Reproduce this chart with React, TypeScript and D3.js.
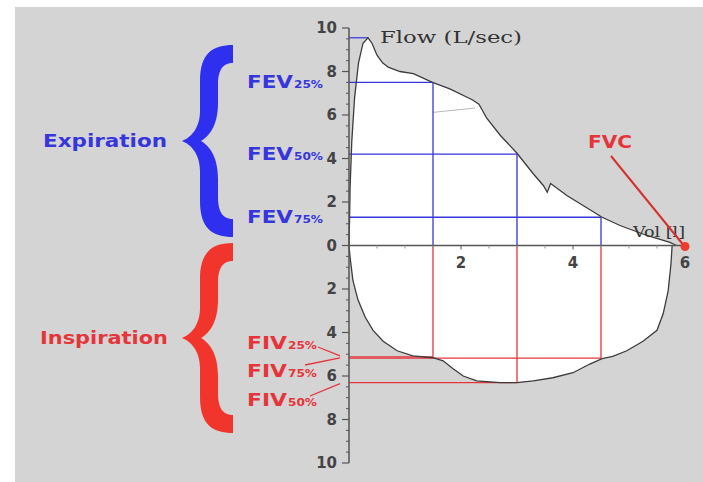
import * as d3 from 'd3';

// flow-volume loop (vol in l, flow in l/s)
const expVol = [0, 0.01, 0.02, 0.05, 0.1, 0.17, 0.25, 0.34, 0.41, 0.5, 0.6, 0.7, 0.91, 1.15, 1.49, 1.8, 2.2, 2.32, 2.46, 2.7, 3.0, 3.29, 3.47, 3.54, 3.6, 3.89, 4.18, 4.52, 4.84, 5.32, 5.73, 5.85];
const expFlow = [0, 1.2, 2.7, 4.8, 6.8, 8.4, 9.3, 9.55, 9.3, 8.75, 8.4, 8.2, 8.0, 7.9, 7.5, 7.2, 6.7, 6.5, 5.85, 5.07, 4.24, 3.3, 2.76, 2.45, 2.85, 2.3, 1.84, 1.3, 0.92, 0.46, 0.14, 0];
const inspVol = [0, 0.02, 0.07, 0.16, 0.29, 0.43, 0.61, 0.86, 1.14, 1.5, 1.68, 1.86, 2.04, 2.28, 2.7, 3.0, 3.29, 3.64, 4.0, 4.3, 4.52, 4.71, 4.96, 5.25, 5.5, 5.61, 5.7, 5.75, 5.77];
const inspFlow = [0, -0.55, -1.6, -2.5, -3.3, -3.9, -4.4, -4.84, -5.07, -5.16, -5.3, -5.67, -6.0, -6.22, -6.3, -6.3, -6.22, -6.08, -5.85, -5.45, -5.2, -5.1, -4.84, -4.4, -3.9, -3.14, -2.07, -0.83, 0];

const pctLabels = ['25%', '50%', '75%'];
const fevVol = [1.5, 3.0, 4.5];
const fevFlow = [7.5, 4.2, 1.3];
const fivVol = [1.5, 3.0, 4.5];
const fivFlow = [-5.12, -6.3, -5.18];
const pefVol = 0.34;
const pefFlow = 9.55;
const fvc = 6;

const yTicks = [10, 8, 6, 4, 2, 0, -2, -4, -6, -8, -10];
const xTicks = [2, 4, 6];

const W = 703;
const H = 482;
const BLUE = '#3636dc';
const RED = '#e6353a';
const AXIS = '#555';

function bracePath(x0: number, x1: number, yTop: number, yBot: number) {
  const ym = (yTop + yBot) / 2;
  const bl = x0 + 18;
  const br = x0 + 36;
  const t = 18;
  return [
    `M${x1},${yTop}`,
    `C${x1 - 20},${yTop} ${bl},${yTop + 8} ${bl},${yTop + 36}`,
    `L${bl},${ym - 30}`,
    `C${bl},${ym - 12} ${x0 + 8},${ym - 3} ${x0},${ym}`,
    `C${x0 + 8},${ym + 3} ${bl},${ym + 12} ${bl},${ym + 30}`,
    `L${bl},${yBot - 36}`,
    `C${bl},${yBot - 8} ${x1 - 20},${yBot} ${x1},${yBot}`,
    `L${x1},${yBot - t}`,
    `C${x1 - 8},${yBot - t} ${br},${yBot - t - 4} ${br},${yBot - t - 22}`,
    `L${br},${ym + 38}`,
    `C${br},${ym + 14} ${x0 + 26},${ym + 4} ${x0 + 19},${ym}`,
    `C${x0 + 26},${ym - 4} ${br},${ym - 14} ${br},${ym - 38}`,
    `L${br},${yTop + t + 22}`,
    `C${br},${yTop + t + 4} ${x1 - 8},${yTop + t} ${x1},${yTop + t}`,
    'Z',
  ].join(' ');
}

export default function App() {
  const x = d3.scaleLinear().domain([0, 6]).range([349, 685]);
  const y = d3.scaleLinear().domain([-10, 10]).range([463, 28]);

  const exp = expVol.map((v, i) => [v, expFlow[i]] as [number, number]);
  const insp = inspVol.map((v, i) => [v, inspFlow[i]] as [number, number]);

  const line = d3.line<[number, number]>().x(d => x(d[0])).y(d => y(d[1]));
  const loop = [...exp, ...insp.slice().reverse()];

  const minor = d3.range(-10, 10.01, 0.5).filter(v => Math.abs(v % 2) > 0.01);
  const xMinor = d3.range(0.5, 6, 0.5).filter(v => Math.abs(v % 2) > 0.01);

  const sans = 'DejaVu Sans, Verdana, sans-serif';
  const serif = 'DejaVu Serif, serif';

  const fivLabelBase = [349, 377, 406];
  const fivPointers = [
    { x1: 318, y1: 347, x2: 340, y2: y(fivFlow[0]) - 1 },
    { x1: 305, y1: 365, x2: 340, y2: y(fivFlow[0]) + 1 },
    { x1: 310, y1: 396, x2: 340, y2: y(fivFlow[1]) + 1 },
  ];
  const fivOrder = [0, 2, 1];

  return (
    <svg width={W} height={H} style={{ position: 'absolute', left: 0, top: 0 }}>
      <rect x={0} y={0} width={W} height={H} fill="#fff" />
      <rect x={15} y={7} width={W - 15} height={H - 7} fill="#d4d4d4" />

      {/* loop interior */}
      <path d={line(loop) || ''} fill="#fff" stroke="none" />

      {/* faint helper segment */}
      <line x1={x(1.5)} y1={y(6.12)} x2={x(2.25)} y2={y(6.32)} stroke="#b8b8b8" strokeWidth={1} />

      {/* expiration guides */}
      <line x1={x(0)} x2={x(pefVol)} y1={y(pefFlow)} y2={y(pefFlow)} stroke={BLUE} strokeWidth={1.2} />
      {fevVol.map((v, i) => (
        <g key={'fev' + i}>
          <line x1={x(0)} x2={x(v)} y1={y(fevFlow[i])} y2={y(fevFlow[i])} stroke={BLUE} strokeWidth={1.3} />
          <line x1={x(v)} x2={x(v)} y1={y(fevFlow[i])} y2={y(0)} stroke={BLUE} strokeWidth={1.3} />
        </g>
      ))}
      {/* inspiration guides */}
      {fivVol.map((v, i) => (
        <g key={'fiv' + i}>
          <line x1={x(0)} x2={x(v)} y1={y(fivFlow[i])} y2={y(fivFlow[i])} stroke={RED} strokeWidth={1.3} />
          <line x1={x(v)} x2={x(v)} y1={y(0)} y2={y(fivFlow[i])} stroke={RED} strokeWidth={1.3} />
        </g>
      ))}

      {/* curve */}
      <path d={line(exp) || ''} fill="none" stroke="#3c3c3c" strokeWidth={1.3} />
      <path d={line(insp) || ''} fill="none" stroke="#3c3c3c" strokeWidth={1.3} />

      {/* axes */}
      <line x1={x(0)} x2={x(6)} y1={y(0)} y2={y(0)} stroke={AXIS} strokeWidth={1.4} />
      {xMinor.map(v => (
        <line key={'xm' + v} x1={x(v)} x2={x(v)} y1={y(0)} y2={y(0) + 3} stroke="#999" strokeWidth={1} />
      ))}
      {xTicks.map(v => (
        <g key={'xt' + v}>
          <line x1={x(v)} x2={x(v)} y1={y(0)} y2={y(0) + 4} stroke={AXIS} strokeWidth={1} />
          <text x={x(v)} y={268} textAnchor="middle" fontFamily={sans} fontWeight="bold" fontSize={15} fill="#444">
            {v}
          </text>
        </g>
      ))}
      <line x1={x(0)} x2={x(0)} y1={y(10)} y2={y(-10)} stroke={AXIS} strokeWidth={1.5} />
      {minor.map(v => (
        <line key={'ym' + v} x1={x(0) - 3} x2={x(0)} y1={y(v)} y2={y(v)} stroke={AXIS} strokeWidth={1} />
      ))}
      {yTicks.map(v => (
        <g key={'yt' + v}>
          <line x1={x(0) - 7} x2={x(0)} y1={y(v)} y2={y(v)} stroke={AXIS} strokeWidth={1.2} />
          <text x={337} y={y(v)} dy="0.36em" textAnchor="end" fontFamily={sans} fontWeight="bold" fontSize={15} fill="#444">
            {Math.abs(v)}
          </text>
        </g>
      ))}

      <text x={380} y={43} fontFamily={serif} fontSize={16} fill="#333" textLength={142} lengthAdjust="spacingAndGlyphs">
        Flow (L/sec)
      </text>
      <text x={633} y={237} fontFamily={serif} fontSize={14} fill="#333" textLength={52} lengthAdjust="spacingAndGlyphs">
        Vol [l]
      </text>

      {/* FVC */}
      <text x={588} y={148} fontFamily={sans} fontWeight="bold" fontSize={17} fill={RED} textLength={44} lengthAdjust="spacingAndGlyphs">
        FVC
      </text>
      <line x1={611} y1={156} x2={x(fvc) - 2} y2={y(0) - 1} stroke="#d63030" strokeWidth={2} />
      <circle cx={x(fvc)} cy={y(0) + 1} r={4.5} fill="#ee3b2c" />

      {/* braces + group labels */}
      <path d={bracePath(182, 233, 45, 237)} fill="#2f2ff0" />
      <path d={bracePath(182, 233, 243, 433)} fill="#f2352c" />
      <text x={43} y={147} fontFamily={sans} fontWeight="bold" fontSize={18} fill={BLUE} textLength={124} lengthAdjust="spacingAndGlyphs">
        Expiration
      </text>
      <text x={40} y={344} fontFamily={sans} fontWeight="bold" fontSize={18} fill={RED} textLength={128} lengthAdjust="spacingAndGlyphs">
        Inspiration
      </text>

      {/* FEV labels */}
      {pctLabels.map((p, i) => (
        <g key={'fevl' + p} fill={BLUE} fontFamily={sans} fontWeight="bold">
          <text x={247} y={y(fevFlow[i]) + 6} fontSize={17} textLength={46} lengthAdjust="spacingAndGlyphs">
            FEV
          </text>
          <text x={294} y={y(fevFlow[i]) + 6} fontSize={10} textLength={29} lengthAdjust="spacingAndGlyphs">
            {p}
          </text>
        </g>
      ))}

      {/* FIV labels: 25%, 75%, 50% from top */}
      {fivOrder.map((k, j) => (
        <g key={'fivl' + k} fill={RED} fontFamily={sans} fontWeight="bold">
          <text x={247} y={fivLabelBase[j]} fontSize={17} textLength={40} lengthAdjust="spacingAndGlyphs">
            FIV
          </text>
          <text x={288} y={fivLabelBase[j]} fontSize={10} textLength={29} lengthAdjust="spacingAndGlyphs">
            {pctLabels[k]}
          </text>
        </g>
      ))}
      {fivPointers.map((p, i) => (
        <line key={'fp' + i} x1={p.x1} y1={p.y1} x2={p.x2} y2={p.y2} stroke={RED} strokeWidth={1.3} />
      ))}
    </svg>
  );
}
